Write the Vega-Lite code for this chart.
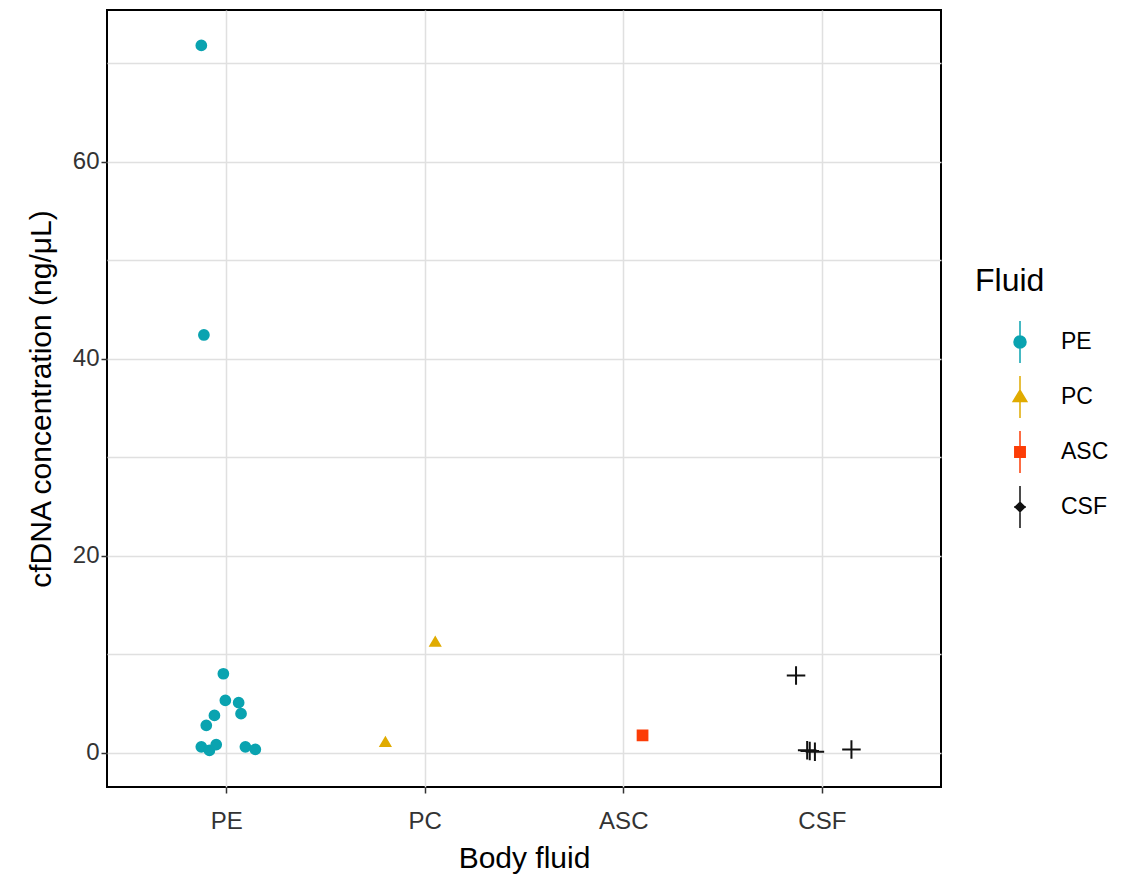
{
  "$schema": "https://vega.github.io/schema/vega-lite/v6.json",
  "autosize": "none",
  "padding": {"left": 107, "top": 10, "right": 196, "bottom": 99},
  "width": 834,
  "height": 777,
  "background": "white",
  "config": {
    "font": "Liberation Sans",
    "view": {"stroke": "black", "strokeWidth": 2}
  },
  "data": {
    "values": [
      {"pos": 0.875, "conc": 71.8, "Fluid": "PE"},
      {"pos": 0.888, "conc": 42.4, "Fluid": "PE"},
      {"pos": 0.986, "conc": 8.0, "Fluid": "PE"},
      {"pos": 0.996, "conc": 5.3, "Fluid": "PE"},
      {"pos": 1.063, "conc": 5.06, "Fluid": "PE"},
      {"pos": 1.075, "conc": 3.95, "Fluid": "PE"},
      {"pos": 0.941, "conc": 3.77, "Fluid": "PE"},
      {"pos": 0.9, "conc": 2.76, "Fluid": "PE"},
      {"pos": 0.875, "conc": 0.58, "Fluid": "PE"},
      {"pos": 0.916, "conc": 0.23, "Fluid": "PE"},
      {"pos": 0.95, "conc": 0.81, "Fluid": "PE"},
      {"pos": 1.097, "conc": 0.58, "Fluid": "PE"},
      {"pos": 1.147, "conc": 0.33, "Fluid": "PE"},
      {"pos": 2.053, "conc": 11.26, "Fluid": "PC"},
      {"pos": 1.802, "conc": 1.08, "Fluid": "PC"},
      {"pos": 3.097, "conc": 1.75, "Fluid": "ASC"},
      {"pos": 3.87, "conc": 7.82, "Fluid": "CSF"},
      {"pos": 3.926, "conc": 0.23, "Fluid": "CSF"},
      {"pos": 3.939, "conc": 0.15, "Fluid": "CSF"},
      {"pos": 3.965, "conc": 0.07, "Fluid": "CSF"},
      {"pos": 4.149, "conc": 0.3, "Fluid": "CSF"}
    ]
  },
  "encoding": {
    "x": {
      "field": "pos",
      "type": "quantitative",
      "scale": {"domain": [0.4, 4.6], "nice": false, "zero": false},
      "axis": {
        "title": "Body fluid",
        "values": [1, 2, 3, 4],
        "labelExpr": "['','PE','PC','ASC','CSF'][datum.value]",
        "labelFontSize": 24,
        "labelColor": "#333333",
        "labelPadding": 16,
        "titleFontSize": 30,
        "titleFontWeight": "normal",
        "titleColor": "black",
        "titlePadding": 10,
        "domain": false,
        "tickColor": "#333333",
        "tickSize": 6,
        "tickWidth": 1.5,
        "grid": true,
        "gridColor": "#e0e0e0",
        "gridWidth": 1.5
      }
    },
    "y": {
      "field": "conc",
      "type": "quantitative",
      "scale": {"domain": [-3.5, 75.4], "nice": false, "zero": false},
      "axis": {
        "title": "cfDNA concentration (ng/μL)",
        "values": [0, 10, 20, 30, 40, 50, 60, 70],
        "labelExpr": "datum.value % 20 === 0 ? datum.label : ''",
        "labelFontSize": 24,
        "labelColor": "#333333",
        "labelPadding": 2,
        "titleFontSize": 30,
        "titleFontWeight": "normal",
        "titleColor": "black",
        "titlePadding": 16,
        "domain": false,
        "tickColor": "#333333",
        "tickSize": 6,
        "tickWidth": 1.5,
        "tickOpacity": {"condition": {"test": "datum.value % 20 === 0", "value": 1}, "value": 0},
        "grid": true,
        "gridColor": "#e0e0e0",
        "gridWidth": 1.5
      }
    }
  },
  "layer": [
    {
      "mark": {"type": "point", "filled": true, "opacity": 1, "strokeWidth": 2, "size": 95},
      "encoding": {
        "color": {
          "field": "Fluid",
          "type": "nominal",
          "scale": {"domain": ["PE", "PC", "ASC", "CSF"], "range": ["#0aa3b0", "#e0ab00", "#fc3d07", "#111111"]},
          "legend": null
        },
        "stroke": {
          "field": "Fluid",
          "type": "nominal",
          "scale": {"domain": ["PE", "PC", "ASC", "CSF"], "range": ["#0aa3b0", "#e0ab00", "#fc3d07", "#111111"]},
          "legend": null
        },
        "shape": {
          "field": "Fluid",
          "type": "nominal",
          "scale": {"domain": ["PE", "PC", "ASC", "CSF"], "range": ["circle", "triangle-up", "square", "M-1.9,0H1.9M0,-1.9V1.9"]},
          "legend": null
        }
      }
    },
    {
      "transform": [{"filter": "datum.conc > 1000"}],
      "mark": {"type": "point", "filled": true, "opacity": 1, "strokeWidth": 1.5, "size": 1600},
      "encoding": {
        "fill": {
          "field": "Fluid",
          "type": "nominal",
          "scale": {"domain": ["PE", "PC", "ASC", "CSF"], "range": ["#0aa3b0", "#e0ab00", "#fc3d07", "#111111"]},
          "legend": {
            "title": "Fluid",
            "orient": "none",
            "legendX": 868,
            "legendY": 256,
            "titleFontSize": 32,
            "titleFontWeight": "normal",
            "titleColor": "black",
            "titlePadding": 23,
            "labelFontSize": 23,
            "labelColor": "black",
            "labelOffset": 20,
            "symbolOffset": 24,
            "symbolSize": 1600,
            "symbolStrokeWidth": 1.5,
            "rowPadding": 7
          }
        },
        "stroke": {
          "field": "Fluid",
          "type": "nominal",
          "scale": {"domain": ["PE", "PC", "ASC", "CSF"], "range": ["#0aa3b0", "#e0ab00", "#fc3d07", "#111111"]},
          "legend": {"title": "Fluid"}
        },
        "shape": {
          "field": "Fluid",
          "type": "nominal",
          "scale": {"domain": ["PE", "PC", "ASC", "CSF"], "range": [
            "M0,-1.05V1.05M-0.3,0A0.3,0.3 0 1,1 0.3,0A0.3,0.3 0 1,1 -0.3,0Z",
            "M0,-1.05V1.05M-0.34,0.22L0,-0.34L0.34,0.22Z",
            "M0,-1.05V1.05M-0.26,-0.26H0.26V0.26H-0.26Z",
            "M0,-1.05V1.05M-0.3,0H0.3M-0.24,0L0,-0.24L0.24,0L0,0.24Z"
          ]},
          "legend": {"title": "Fluid"}
        }
      }
    }
  ],
  "resolve": {"scale": {"shape": "independent", "color": "independent", "fill": "independent", "stroke": "independent"}}
}
